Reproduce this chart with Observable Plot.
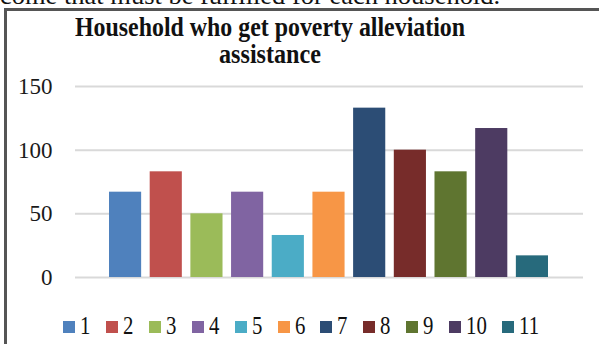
<!DOCTYPE html>
<html>
<head>
<meta charset="utf-8">
<script src="https://cdn.jsdelivr.net/npm/d3@7"></script>
<script src="https://cdn.jsdelivr.net/npm/@observablehq/plot@0.6"></script>
<style>
  html, body { margin: 0; padding: 0; background: #fff; }
  #wrap { position: relative; width: 599px; height: 344px; overflow: hidden; background: #fff; font-family: "Liberation Serif", "Times New Roman", serif; }
  .tl { position: absolute; white-space: nowrap; color: #111; }
  #topline { left: 0; top: 0; font-size: 25px; line-height: 25px; }
  #box { position: absolute; left: 4px; top: 8px; width: 700px; height: 400px; border-top: 3px solid #555; border-left: 3px solid #555; box-sizing: border-box; }
  .title { left: 270px; font-weight: bold; font-size: 27px; line-height: 21px; }
  #chart { position: absolute; left: 0; top: 0; }
  #legend { position: absolute; left: 63px; top: 313px; display: flex; align-items: center; }
  .item { display: flex; align-items: center; margin-right: 15.5px; }
  .sw { width: 12px; height: 12px; margin-right: 5px; margin-top: 2px; }
  .lab { font-size: 26px; line-height: 26px; color: #111; display: inline-block; transform: scaleX(0.8); transform-origin: 0 50%; }
</style>
</head>
<body>
<div id="wrap">
  <div id="chart"></div>
  <div id="box"></div>
  <div id="topline" class="tl">come that must be fulfilled for each household.</div>
  <div id="t1" class="tl title">Household who get poverty alleviation</div>
  <div id="t2" class="tl title">assistance</div>
  <div id="legend"></div>
</div>
<script>
const categories = ["1","2","3","4","5","6","7","8","9","10","11"];
const values = [67, 83, 50, 67, 33, 67, 133, 100, 83, 117, 17];
const colors = ["#4F81BD","#C0504D","#9BBB59","#8064A2","#4BACC6","#F79646","#2C4D75","#772C2A","#5F7530","#4D3B62","#276A7C"];
const yTicks = [0, 50, 100, 150];

const data = categories.map((c, i) => ({cat: c, value: values[i]}));

const chart = Plot.plot({
  width: 599,
  height: 344,
  marginLeft: 75,
  marginRight: 16,
  marginTop: 86,
  marginBottom: 67,
  style: { background: "transparent", fontFamily: "Liberation Serif, Times New Roman, serif" },
  x: { domain: categories, paddingInner: 0.21, paddingOuter: 0, insetLeft: 34, insetRight: 35, round: false, axis: null },
  y: { domain: [0, 150], axis: null },
  color: { domain: categories, range: colors },
  marks: [
    Plot.ruleY(yTicks, { stroke: "#d9d9d9", strokeWidth: 2 }),
    Plot.barY(data, { x: "cat", y: "value", fill: "cat" }),
    Plot.axisY(yTicks, { tickSize: 0, tickPadding: 23, fontSize: 23, fill: "#1a1a1a", textAnchor: "end", label: null })
  ]
});
document.getElementById("chart").appendChild(chart);

const legend = d3.select("#legend");
categories.forEach((c, i) => {
  const it = legend.append("div").attr("class", "item");
  it.append("div").attr("class", "sw").style("background", colors[i]);
  it.append("span").attr("class", "lab").text(c);
});
document.querySelectorAll(".lab").forEach(el => {
  const w = el.getBoundingClientRect().width;
  el.style.marginRight = (-(el.offsetWidth - w)) + "px";
});

function place(id, baseline, opts) {
  const el = document.getElementById(id);
  const m = document.createElement("span");
  m.style.display = "inline-block"; m.style.width = "0"; m.style.height = "0"; m.style.verticalAlign = "baseline";
  el.appendChild(m);
  const cur = m.getBoundingClientRect().top - el.getBoundingClientRect().top;
  el.removeChild(m);
  el.style.top = (baseline - cur) + "px";
  if (opts) {
    const w = el.offsetWidth;
    const s = opts.width / w;
    el.style.transformOrigin = "0 0";
    el.style.transform = `scaleX(${s})`;
    el.style.left = (opts.center - opts.width / 2) + "px";
  }
}
place("topline", 4, {center: 250, width: 500});
place("t1", 36, {center: 270, width: 390});
place("t2", 63, {center: 270, width: 102});
</script>
</body>
</html>
